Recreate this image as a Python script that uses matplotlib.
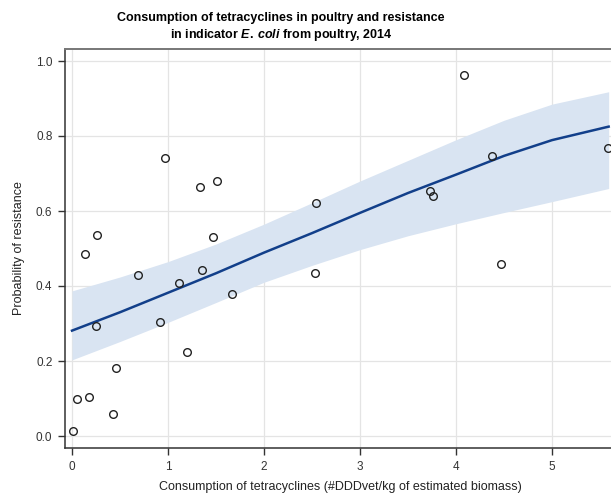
import numpy as np
import matplotlib
matplotlib.use("Agg")
import matplotlib.pyplot as plt

plt.rcParams["font.family"] = ["Liberation Sans", "DejaVu Sans"]
plt.rcParams["mathtext.fontset"] = "custom"
plt.rcParams["mathtext.it"] = "Liberation Sans:italic:bold"
plt.rcParams["mathtext.rm"] = "Liberation Sans:bold"

# observed countries: consumption vs. share resistant
consumption = [0.007, 0.05, 0.18, 0.43, 0.455, 0.247, 0.69, 0.92, 1.115, 1.20,
               0.135, 0.257, 0.969, 1.333, 1.514, 1.465, 1.357, 2.545, 2.53,
               1.67, 4.087, 4.378, 3.73, 3.757, 4.466, 5.587]
resistance = [0.014, 0.10, 0.103, 0.058, 0.182, 0.293, 0.43, 0.305, 0.407, 0.225,
              0.485, 0.536, 0.74, 0.665, 0.681, 0.53, 0.443, 0.62, 0.436,
              0.38, 0.963, 0.746, 0.652, 0.64, 0.459, 0.769]

# fitted logistic curve and 95% band
fit_x = [0, 0.5, 1, 1.5, 2, 2.5, 3, 3.5, 4, 4.5, 5, 5.59]
fit_y = [0.281, 0.330, 0.382, 0.434, 0.489, 0.541, 0.595, 0.648, 0.697, 0.747, 0.789, 0.825]
band_hi = [0.387, 0.424, 0.465, 0.512, 0.565, 0.622, 0.680, 0.735, 0.790, 0.842, 0.885, 0.918]
band_lo = [0.203, 0.252, 0.303, 0.356, 0.410, 0.455, 0.497, 0.534, 0.566, 0.596, 0.625, 0.660]

xticks = [0, 1, 2, 3, 4, 5]
yticks = [0.0, 0.2, 0.4, 0.6, 0.8, 1.0]

fig = plt.figure(figsize=(6.11, 4.94), dpi=100)
ax = fig.add_axes([65 / 611, 46 / 494, 550 / 611, 399 / 494])

ax.fill_between(fit_x, band_lo, band_hi, color="#d9e4f2", lw=0, zorder=1)
ax.plot(fit_x, fit_y, color="#123f8a", lw=1.8, zorder=3)
ax.plot(consumption, resistance, "o", ms=5.5, mfc="none", mec="#222222",
        mew=1.0, zorder=4, clip_on=False)

ax.set_xlim(-0.073, 5.656)
ax.set_ylim(-0.032, 1.032)
ax.set_xticks(xticks)
ax.set_yticks(yticks)
ax.set_yticklabels([f"{v:.1f}" for v in yticks])
ax.grid(True, color="#e4e4e4", lw=0.9)
ax.set_axisbelow(True)

ax.spines["right"].set_visible(False)
ax.spines["top"].set_color("#777777")
ax.spines["top"].set_linewidth(1.4)
for s in ["left", "bottom"]:
    ax.spines[s].set_color("#333333")
    ax.spines[s].set_linewidth(1.1)
ax.tick_params(direction="out", length=5, width=1, color="#333333",
               labelsize=8.5, labelcolor="#333333", pad=4)

ax.set_xlabel("Consumption of tetracyclines (#DDDvet/kg of estimated biomass)",
              fontsize=9, color="#222222", labelpad=6)
ax.set_ylabel("Probability of resistance", fontsize=9, color="#222222", labelpad=8)

fig.text(281 / 611, 1 - 18 / 494,
         "Consumption of tetracyclines in poultry and resistance",
         ha="center", va="center", fontsize=9, fontweight="bold")
fig.text(281 / 611, 1 - 35 / 494,
         r"in indicator $\mathit{E.\:coli}$ from poultry, 2014",
         ha="center", va="center", fontsize=9, fontweight="bold")

fig.savefig("out.png", dpi=100)
